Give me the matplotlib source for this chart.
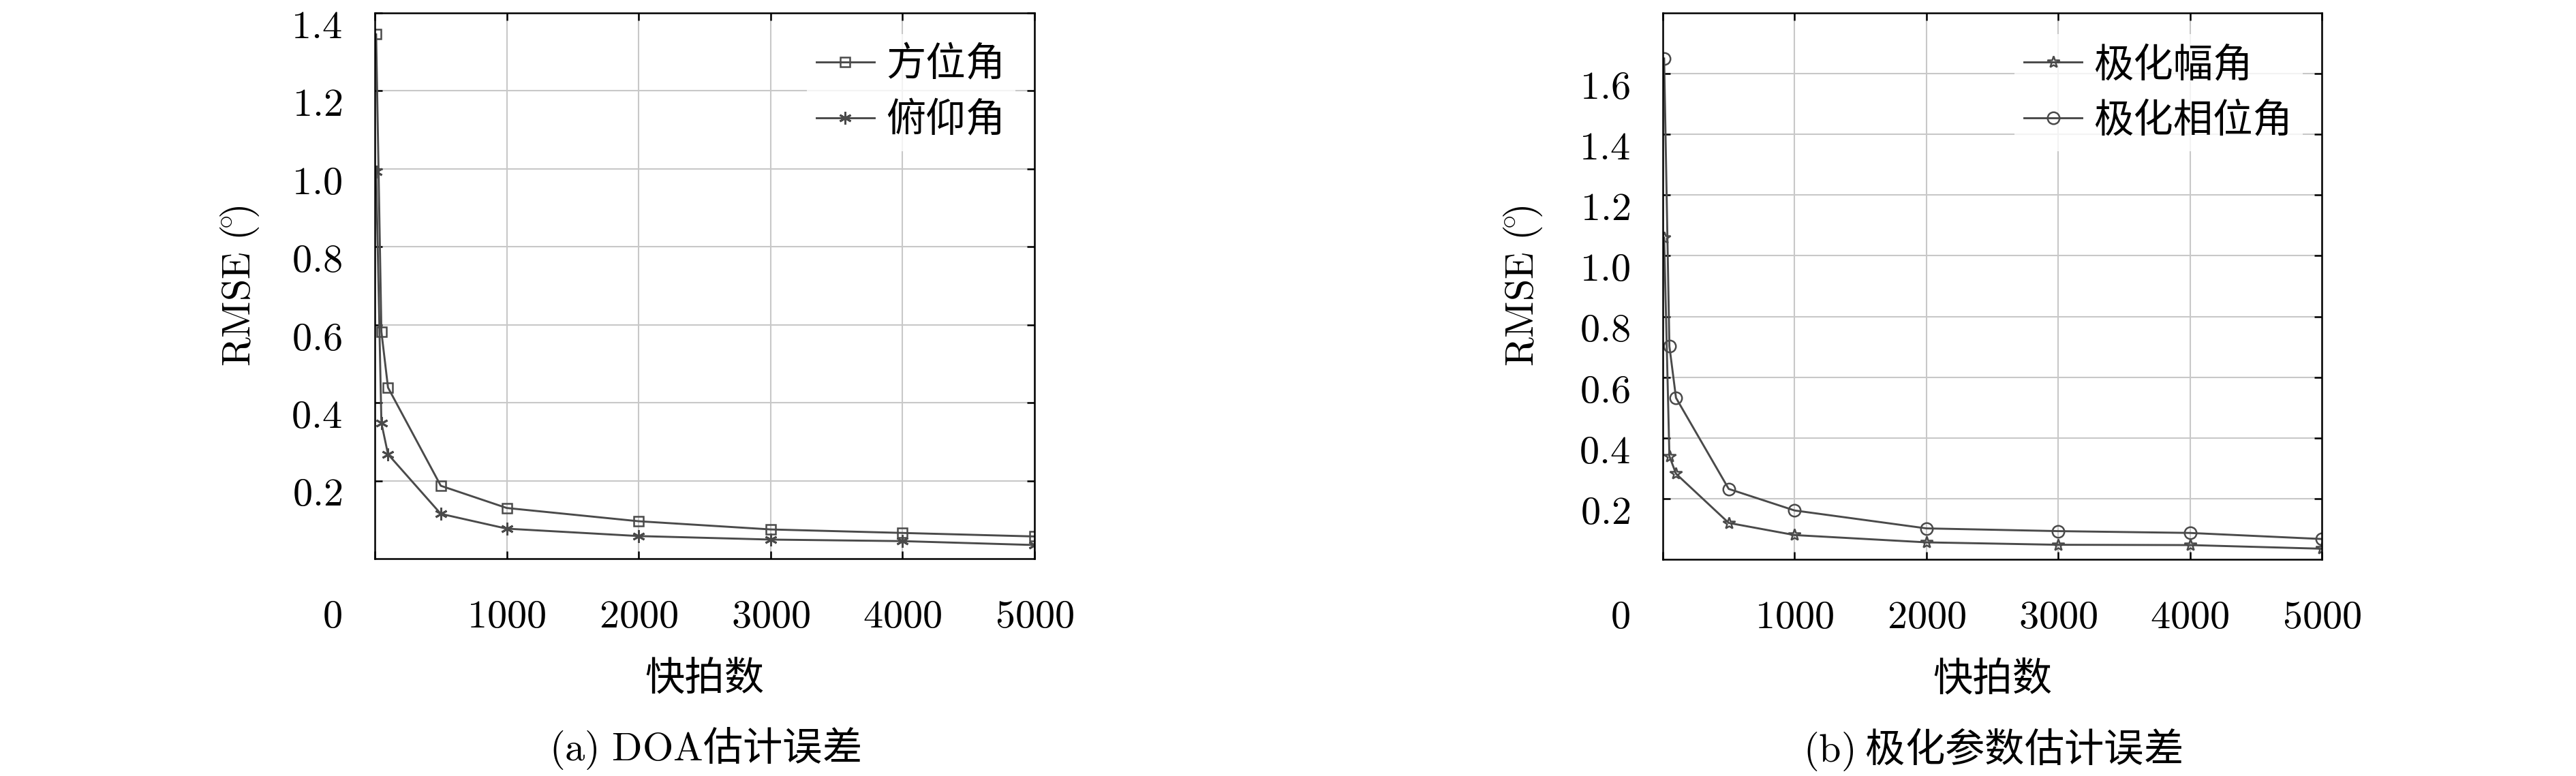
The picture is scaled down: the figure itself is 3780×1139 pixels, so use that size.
import numpy as np
import matplotlib
matplotlib.use("Agg")
import matplotlib.pyplot as plt
from matplotlib.transforms import ScaledTranslation

plt.rcParams['font.family'] = ['Noto Sans CJK SC', 'DejaVu Sans']
plt.rcParams['mathtext.fontset'] = 'cm'

#%% data
snapshots = [10, 50, 100, 500, 1000, 2000, 3000, 4000, 5000]
rmse_azimuth = [1.345, 0.582, 0.439, 0.187, 0.130, 0.096, 0.075, 0.066, 0.057]
rmse_elevation = [0.992, 0.348, 0.268, 0.115, 0.077, 0.058, 0.049, 0.045, 0.035]
rmse_pol_amp = [1.06, 0.340, 0.282, 0.120, 0.080, 0.056, 0.048, 0.047, 0.035]
rmse_pol_phase = [1.65, 0.702, 0.532, 0.232, 0.161, 0.102, 0.093, 0.087, 0.067]

xticks = [0, 1000, 2000, 3000, 4000, 5000]
yticks_a = [0.2, 0.4, 0.6, 0.8, 1.0, 1.2, 1.4]
yticks_b = [0.2, 0.4, 0.6, 0.8, 1.0, 1.2, 1.4, 1.6]

labels_a = ['方位角', '俯仰角']
labels_b = ['极化幅角', '极化相位角']
captions = [r'$\mathrm{(a)\ DOA}$估计误差', r'$\mathrm{(b)}$ 极化参数估计误差']

#%% figure
fig = plt.figure(figsize=(12.6, 1139 / 300), dpi=300)
ax1 = fig.add_axes([550 / 3780, 1 - 820 / 1139, 968 / 3780, 801 / 1139])
ax2 = fig.add_axes([2440 / 3780, 1 - 821 / 1139, 967 / 3780, 802 / 1139])

lc = '#4a4a4a'
fs = 14
lw = 0.7
asterisk = (6, 2, 0)

ax1.plot(snapshots, rmse_azimuth, color=lc, lw=lw, marker='s', ms=3.4,
         mfc='none', mec=lc, mew=0.6, label=labels_a[0])
ax1.plot(snapshots, rmse_elevation, color=lc, lw=lw, marker=asterisk, ms=4.4,
         mec=lc, mew=0.7, label=labels_a[1])
ax2.plot(snapshots, rmse_pol_amp, color=lc, lw=lw, marker='*', ms=4.4,
         mfc='none', mec=lc, mew=0.6, label=labels_b[0])
ax2.plot(snapshots, rmse_pol_phase, color=lc, lw=lw, marker='o', ms=4.2,
         mfc='none', mec=lc, mew=0.6, label=labels_b[1])

down = ScaledTranslation(0, -3.2 / 72, fig.dpi_scale_trans)

for ax, yt, ymax, xlab_x, cap in [(ax1, yticks_a, 1.4, -0.1725, captions[0]),
                                   (ax2, yticks_b, 1.8, -0.18, captions[1])]:
    ax.set_xlim(0, 5000)
    ax.set_ylim(0, ymax)
    ax.set_xticks(xticks)
    ax.set_xticklabels(['$%d$' % t for t in xticks], fontsize=fs)
    ax.set_yticks(yt)
    ax.set_yticklabels(['$%.1f$' % t for t in yt], fontsize=fs)
    ax.grid(True, color='#c8c8c8', lw=0.5)
    ax.set_axisbelow(True)
    ax.tick_params(direction='in', top=True, right=True, length=2.6, width=0.6,
                   color='black')
    ax.tick_params(axis='x', pad=13)
    ax.tick_params(axis='y', pad=11.5)
    for s in ax.spines.values():
        s.set_linewidth(0.6)
    # the "0" label sits left of the corner, the y labels a bit low
    lbls = ax.get_xticklabels()
    lbls[0].set_transform(lbls[0].get_transform()
                          + ScaledTranslation(-15 / 72, 0, fig.dpi_scale_trans))
    for lb in ax.get_yticklabels():
        lb.set_transform(lb.get_transform() + down)

    ax.set_ylabel(r'$\mathrm{RMSE}\ (\!^{\circ}\!)$', fontsize=fs)
    ax.yaxis.set_label_coords(xlab_x, 0.5)
    ax.set_xlabel('快拍数', fontsize=fs)
    ax.xaxis.set_label_coords(0.5, -0.182)
    ax.text(0.5, -0.348, cap, transform=ax.transAxes, ha='center', va='center',
            fontsize=fs)

    leg = ax.legend(loc='upper right', bbox_to_anchor=(0.971, 0.961),
                    borderaxespad=0, fontsize=fs, frameon=True, fancybox=False,
                    handlelength=1.45, handletextpad=0.3, labelspacing=0.35,
                    borderpad=0.25)
    leg.get_frame().set_edgecolor('white')
    leg.get_frame().set_linewidth(0)

fig.savefig('out.png', dpi=300)
